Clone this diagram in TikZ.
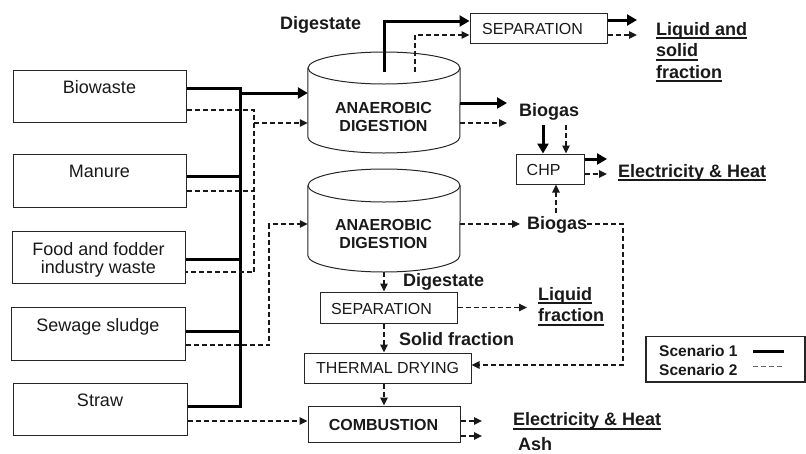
\documentclass[tikz,border=0pt]{standalone}
\usepackage{fontspec}
\setmainfont{Liberation Sans}
\usetikzlibrary{arrows.meta}
\newcommand\myul[1]{\setbox0=\hbox{#1}\rlap{\rule[-4pt]{\wd0}{2pt}}\box0}
\begin{document}
\begin{tikzpicture}[x=1pt,y=-1pt,
  every node/.style={text=black!90},
  box/.style={draw=black!85,line width=1pt,inner sep=0},
  cyl/.style={draw=black!85,line width=1pt},
  intxt/.style={font=\fontsize{18}{21}\selectfont,inner sep=0,anchor=base},
  btxt/.style={font=\fontsize{16}{18}\selectfont,inner sep=0,anchor=base west},
  bbtxt/.style={font=\fontsize{16}{18}\selectfont\bfseries,inner sep=0,anchor=base},
  lab/.style={font=\fontsize{18}{21}\selectfont\bfseries,inner sep=0,anchor=base west},
  legtxt/.style={font=\fontsize{15.5}{18}\selectfont\bfseries,inner sep=0,anchor=base west},
  s1/.style={draw=black,line width=3pt},
  s1a/.style={s1,-{Triangle[length=10pt,width=11pt]}},
  s2/.style={draw=black!90,line width=1.3pt,dash pattern=on 5pt off 3pt},
  s2a/.style={s2,-{Triangle[length=8pt,width=7.5pt]}}]
\useasboundingbox (0,0) rectangle (806,453);

% ---------- input boxes ----------
\node[box,minimum width=173pt,minimum height=52pt] (bio) at (99.5,96) {};
\node[intxt] (biot) at (99.5,93.3) {Biowaste};
\node[box,minimum width=173pt,minimum height=53pt] (man) at (99.5,180.5) {};
\node[intxt] (mant) at (99.5,177) {Manure};
\node[box,minimum width=173pt,minimum height=52pt] (food) at (98.5,257) {};
\node[intxt] (foodt) at (98.5,255) {Food and fodder};
\node[intxt] (foodt2) at (98.5,273) {industry waste};
\node[box,minimum width=174pt,minimum height=53pt] (sew) at (98,333.5) {};
\node[intxt] (sewt) at (98,331) {Sewage sludge};
\node[box,minimum width=174pt,minimum height=52pt] (straw) at (100,409) {};
\node[intxt] (strawt) at (100,406.5) {Straw};

% ---------- cylinders ----------
\node[inner sep=0,minimum width=152pt,minimum height=101pt] (ad1) at (384,102.5) {};
\draw[cyl] (ad1.west |- 0,68) -- (ad1.west |- 0,137)
  arc[start angle=180,end angle=360,x radius=76pt,y radius=16pt] -- (ad1.east |- 0,68);
\draw[cyl] (384,68) ellipse[x radius=76pt,y radius=16pt];
\node[bbtxt] (ad1a) at (383.5,113) {ANAEROBIC};
\node[bbtxt] (ad1b) at (383.5,131.7) {DIGESTION};

\node[inner sep=0,minimum width=152pt,minimum height=103pt] (ad2) at (384,220.5) {};
\draw[cyl] (ad2.west |- 0,185.5) -- (ad2.west |- 0,255.5)
  arc[start angle=180,end angle=360,x radius=76pt,y radius=16.5pt] -- (ad2.east |- 0,185.5);
\draw[cyl] (384,185.5) ellipse[x radius=76pt,y radius=16.5pt];
\node[bbtxt] (ad2a) at (383.5,230) {ANAEROBIC};
\node[bbtxt] (ad2b) at (383.5,248.5) {DIGESTION};

% ---------- process boxes ----------
\node[box,minimum width=137pt,minimum height=30pt] (sep1) at (538.5,28) {};
\node[btxt] (sep1t) at (482,34) {SEPARATION};
\node[box,minimum width=68pt,minimum height=30pt] (chp) at (550,169) {};
\node[btxt] (chpt) at (526.5,175.5) {CHP};
\node[box,minimum width=137pt,minimum height=31pt] (sep2) at (388.5,307.5) {};
\node[btxt] (sep2t) at (331,314) {SEPARATION};
\node[box,minimum width=167pt,minimum height=30pt] (dry) at (387.5,368) {};
\node[btxt] (dryt) at (316,373.3) {THERMAL DRYING};
\node[box,minimum width=152pt,minimum height=36pt] (comb) at (384,424) {};
\node[bbtxt] (combt) at (383.5,430.5) {COMBUSTION};

% ---------- labels ----------
\node[lab] (dg1) at (280,29) {Digestate};
\node[lab] (liq1a) at (656,35) {\myul{Liquid and}};
\node[lab] (liq1b) at (656,56.7) {\myul{solid}};
\node[lab] (liq1c) at (656,78) {\myul{fraction}};
\node[lab] (bg1) at (519,116) {Biogas};
\node[lab] (eh1) at (618,177) {\myul{Electricity \& Heat}};
\node[lab] (bg2) at (527,229.5) {Biogas};
\node[lab] (dg2) at (403,286) {Digestate};
\node[lab] (liq2a) at (538,300) {\myul{Liquid}};
\node[lab] (liq2b) at (538,321.7) {\myul{fraction}};
\node[lab] (sf) at (399,345) {Solid fraction};
\node[lab] (eh2) at (513,425.7) {\myul{Electricity \& Heat}};
\node[lab] (ash) at (518,450) {Ash};

% ---------- scenario 1 (solid) ----------
\coordinate (b1top) at (240,88);
\coordinate (b1bot) at (240,406);
\draw[s1] (bio.east |- b1top) -- (b1top) -- (b1bot) -- (straw.east |- b1bot);
\draw[s1] (man.east |- 0,176) -- (b1top |- 0,176);
\draw[s1] (food.east |- 0,259) -- (b1top |- 0,259);
\draw[s1] (sew.east |- 0,331) -- (b1top |- 0,331);
\draw[s1a] (b1top |- 0,93) -- (ad1.west |- 0,93);
\draw[s1a] (ad1.north |- 0,72) -- (ad1.north |- 0,21) -- (sep1.west |- 0,21);
\draw[s1a] (sep1.east |- 0,20) -- (637,20);
\draw[s1a] (ad1.east |- 0,103) -- (507,103);
\draw[s1a] (543,125) -- (543,125 |- chp.north);
\draw[s1a] (chp.east |- 0,159) -- (607,159);

% ---------- scenario 2 (dashed) ----------
\coordinate (b2top) at (254,110);
\draw[s2] (bio.east |- b2top) -- (b2top) -- (254,272) -- (food.east |- 0,272);
\draw[s2] (man.east |- 0,191) -- (b2top |- 0,191);
\draw[s2a] (b2top |- 0,123) -- (ad1.west |- 0,123);
\draw[s2a] (sew.east |- 0,345) -- (269,345) -- (269,224) -- (ad2.west |- 0,224);
\draw[s2a] (straw.east |- 0,421) -- (comb.west |- 0,421);
\draw[s2a] (415,72) -- (415,35) -- (sep1.west |- 0,35);
\draw[s2a] (sep1.east |- 0,35) -- (637,35);
\draw[s2a] (ad1.east |- 0,123) -- (507,123);
\draw[s2a] (566,125) -- (566,125 |- chp.north);
\draw[s2a] (chp.east |- 0,174) -- (607,174);
\draw[s2a] (ad2.east |- 0,224) -- (520,224);
\draw[s2a] (556,213) -- (556,213 |- chp.south);
\draw[s2a] (bg2.east |- 0,224) -- (623,224) -- (623,365) -- (dry.east |- 0,365);
\draw[s2a] (ad2.south) -- (ad2.south |- sep2.north);
\draw[s2a] (sep2.east) -- (527,307.5);
\draw[s2a] (ad2.south |- sep2.south) -- (ad2.south |- dry.north);
\draw[s2a] (ad2.south |- dry.south) -- (ad2.south |- comb.north);
\draw[s2a] (comb.east |- 0,421) -- (482,421);
\draw[s2a] (comb.east |- 0,436) -- (482,436);

% ---------- legend ----------
\node[draw=black!85,line width=1.2pt,inner sep=0,minimum width=159pt,minimum height=45.5pt] (leg) at (725.5,359.3) {};
\node[legtxt] (leg1) at (659,356.7) {Scenario 1};
\node[legtxt] (leg2) at (659,375) {Scenario 2};
\coordinate (l1a) at (753,351);
\coordinate (l1b) at (784,351);
\coordinate (l2a) at (753,366.5);
\coordinate (l2b) at (784,366.5);
\draw[s1] (l1a) -- (l1b);
\draw[s2,draw=black!60] (l2a) -- (l2b);
\end{tikzpicture}
\end{document}
